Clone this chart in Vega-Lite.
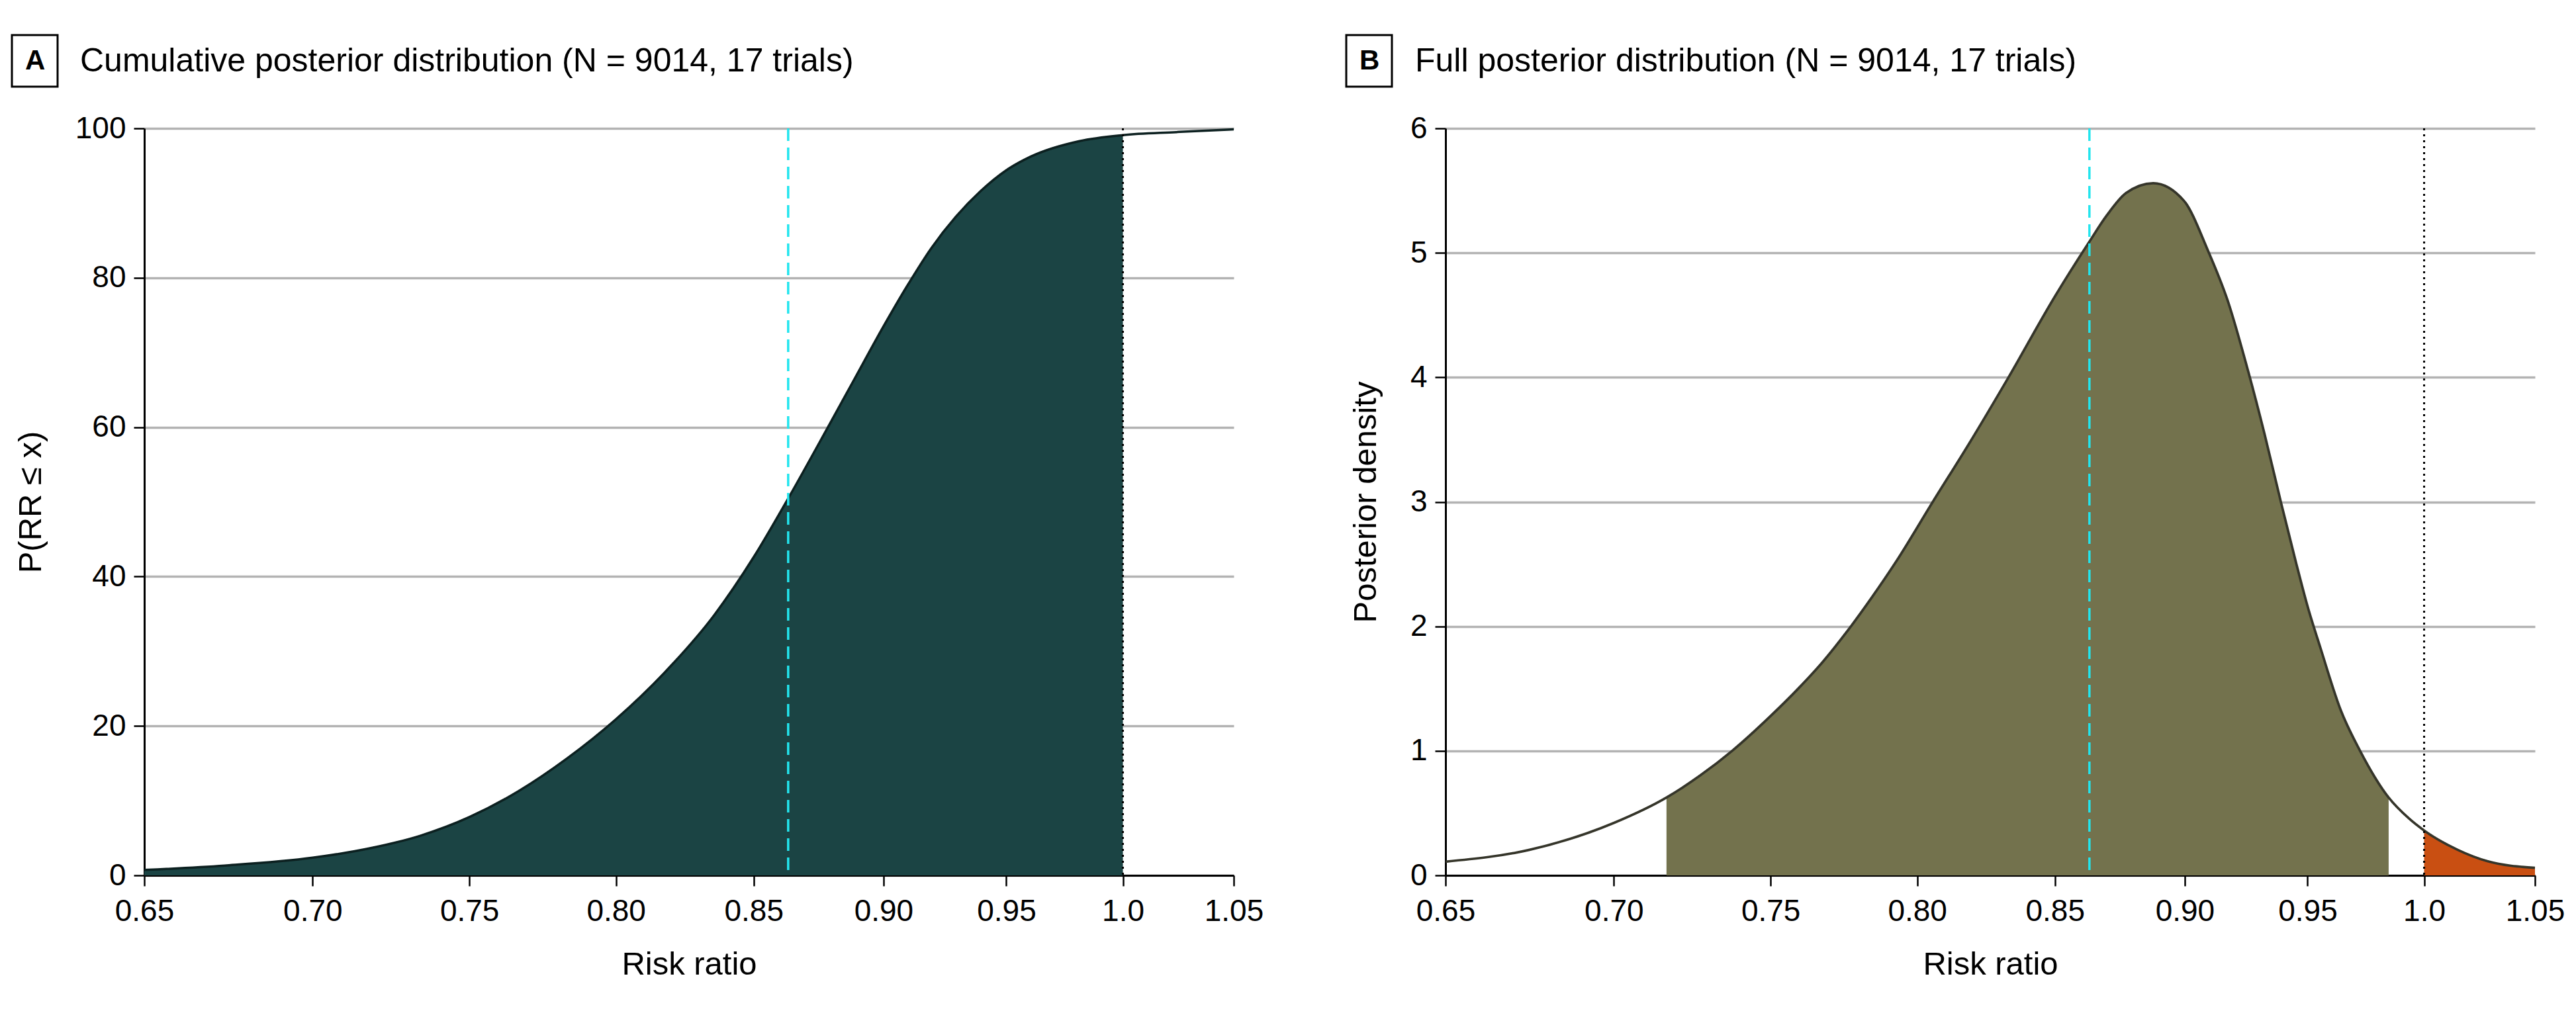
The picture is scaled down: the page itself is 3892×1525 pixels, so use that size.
{
  "$schema": "https://vega.github.io/schema/vega-lite/v6.json",
  "padding": {"left": 16, "top": 51, "right": 0, "bottom": 0},
  "background": "white",
  "datasets": {
    "cdf": [
      {"rr": 0.65, "p": 0.72}, {"rr": 0.6734, "p": 1.31}, {"rr": 0.70, "p": 2.36}, {"rr": 0.7184, "p": 3.67},
      {"rr": 0.734, "p": 5.31}, {"rr": 0.75, "p": 7.8}, {"rr": 0.7664, "p": 11.27}, {"rr": 0.783, "p": 15.66},
      {"rr": 0.80, "p": 20.9}, {"rr": 0.8176, "p": 27.26}, {"rr": 0.8354, "p": 34.86}, {"rr": 0.85, "p": 42.6},
      {"rr": 0.8634, "p": 50.7}, {"rr": 0.8785, "p": 60.16}, {"rr": 0.888, "p": 66.1}, {"rr": 0.90, "p": 73.5},
      {"rr": 0.9094, "p": 78.9}, {"rr": 0.9192, "p": 84.0}, {"rr": 0.9292, "p": 88.2}, {"rr": 0.9393, "p": 91.6},
      {"rr": 0.95, "p": 94.4}, {"rr": 0.9601, "p": 96.2}, {"rr": 0.9811, "p": 98.3}, {"rr": 1.0, "p": 99.1},
      {"rr": 1.0238, "p": 99.5}, {"rr": 1.05, "p": 99.87}
    ],
    "dens": [
      {"rr": 0.65, "d": 0.11}, {"rr": 0.6743, "d": 0.204}, {"rr": 0.70, "d": 0.421}, {"rr": 0.7164, "d": 0.625},
      {"rr": 0.7271, "d": 0.802}, {"rr": 0.7374, "d": 1.0}, {"rr": 0.75, "d": 1.28}, {"rr": 0.7591, "d": 1.498},
      {"rr": 0.7674, "d": 1.714}, {"rr": 0.7757, "d": 1.96}, {"rr": 0.7841, "d": 2.23}, {"rr": 0.7926, "d": 2.52},
      {"rr": 0.8055, "d": 3.0}, {"rr": 0.8187, "d": 3.476}, {"rr": 0.8328, "d": 4.0}, {"rr": 0.85, "d": 4.65},
      {"rr": 0.8627, "d": 5.08}, {"rr": 0.8696, "d": 5.30}, {"rr": 0.877, "d": 5.48}, {"rr": 0.8876, "d": 5.56},
      {"rr": 0.8996, "d": 5.42}, {"rr": 0.9092, "d": 5.02}, {"rr": 0.9171, "d": 4.62}, {"rr": 0.9256, "d": 4.04},
      {"rr": 0.9321, "d": 3.55}, {"rr": 0.939, "d": 2.99}, {"rr": 0.9452, "d": 2.51}, {"rr": 0.95, "d": 2.16},
      {"rr": 0.9555, "d": 1.82}, {"rr": 0.9639, "d": 1.33}, {"rr": 0.9722, "d": 1.0}, {"rr": 0.9845, "d": 0.625},
      {"rr": 0.9934, "d": 0.456}, {"rr": 1.0, "d": 0.36}, {"rr": 1.015, "d": 0.204}, {"rr": 1.0282, "d": 0.114},
      {"rr": 1.05, "d": 0.06}
    ],
    "cri": [
      {"rr": 0.7164, "d": 0.625}, {"rr": 0.7271, "d": 0.802}, {"rr": 0.7374, "d": 1.0}, {"rr": 0.75, "d": 1.28},
      {"rr": 0.7591, "d": 1.498}, {"rr": 0.7674, "d": 1.714}, {"rr": 0.7757, "d": 1.96}, {"rr": 0.7841, "d": 2.23},
      {"rr": 0.7926, "d": 2.52}, {"rr": 0.8055, "d": 3.0}, {"rr": 0.8187, "d": 3.476}, {"rr": 0.8328, "d": 4.0},
      {"rr": 0.85, "d": 4.65}, {"rr": 0.8627, "d": 5.08}, {"rr": 0.8696, "d": 5.30}, {"rr": 0.877, "d": 5.48},
      {"rr": 0.8876, "d": 5.56}, {"rr": 0.8996, "d": 5.42}, {"rr": 0.9092, "d": 5.02}, {"rr": 0.9171, "d": 4.62},
      {"rr": 0.9256, "d": 4.04}, {"rr": 0.9321, "d": 3.55}, {"rr": 0.939, "d": 2.99}, {"rr": 0.9452, "d": 2.51},
      {"rr": 0.95, "d": 2.16}, {"rr": 0.9555, "d": 1.82}, {"rr": 0.9639, "d": 1.33}, {"rr": 0.9722, "d": 1.0},
      {"rr": 0.9845, "d": 0.625}
    ],
    "harm": [
      {"rr": 1.0, "d": 0.36}, {"rr": 1.015, "d": 0.204}, {"rr": 1.0282, "d": 0.114}, {"rr": 1.05, "d": 0.06}
    ],
    "refA": [{"rr": 0.863, "panel": "A"}],
    "refB": [{"rr": 0.863, "panel": "B"}],
    "nullLine": [{"rr": 1.0}]
  },
  "spacing": 320,
  "bounds": "flush",
  "resolve": {"scale": {"opacity": "independent"}, "legend": {"opacity": "independent"}},
  "hconcat": [
    {
      "width": 1646,
      "height": 1129,
      "title": {"text": "Cumulative posterior distribution (N = 9014, 17 trials)", "dx": -97, "offset": -66},
      "layer": [
        {
          "data": {"name": "cdf"},
          "transform": [{"filter": "datum.rr <= 1.0"}],
          "mark": {"type": "area", "color": "#1b4444", "interpolate": "monotone"},
          "encoding": {
            "x": {"field": "rr", "type": "quantitative", "scale": {"type": "log", "domain": [0.65, 1.05], "nice": false, "zero": false},
                  "axis": {"values": [0.65, 0.7, 0.75, 0.8, 0.85, 0.9, 0.95, 1.0, 1.05], "labelExpr": "datum.value == 1 ? '1.0' : format(datum.value, '.2f')", "labelOverlap": false}, "title": "Risk ratio"},
            "y": {"field": "p", "type": "quantitative", "scale": {"domain": [0, 100], "nice": false},
                  "axis": {"values": [0, 20, 40, 60, 80, 100], "grid": true, "format": "d"}, "title": "P(RR ≤ x)"}
          }
        },
        {
          "data": {"name": "cdf"},
          "mark": {"type": "line", "color": "#0c2020", "strokeWidth": 3.5, "interpolate": "monotone"},
          "encoding": {
            "x": {"field": "rr", "type": "quantitative"},
            "y": {"field": "p", "type": "quantitative"}
          }
        },
        {
          "data": {"name": "nullLine"},
          "mark": {"type": "rule", "color": "black", "strokeWidth": 3, "strokeDash": [3, 6]},
          "encoding": {"x": {"field": "rr", "type": "quantitative"}}
        },
        {
          "data": {"name": "refA"},
          "mark": {"type": "rule", "color": "#22e5ee", "strokeWidth": 3.5, "strokeDash": [19, 10]},
          "encoding": {
            "x": {"field": "rr", "type": "quantitative"},
            "opacity": {"field": "panel", "type": "ordinal", "scale": {"range": [1]},
                        "legend": {"title": null, "orient": "none", "legendX": -200, "legendY": -141, "symbolSize": 0, "labelOffset": -40}}
          }
        }
      ]
    },
    {
      "width": 1646,
      "height": 1129,
      "title": {"text": "Full posterior distribution (N = 9014, 17 trials)", "dx": -46, "offset": -66},
      "layer": [
        {
          "data": {"name": "cri"},
          "mark": {"type": "area", "color": "#73724d", "interpolate": "monotone"},
          "encoding": {
            "x": {"field": "rr", "type": "quantitative", "scale": {"type": "log", "domain": [0.65, 1.05], "nice": false, "zero": false},
                  "axis": {"values": [0.65, 0.7, 0.75, 0.8, 0.85, 0.9, 0.95, 1.0, 1.05], "labelExpr": "datum.value == 1 ? '1.0' : format(datum.value, '.2f')", "labelOverlap": false}, "title": "Risk ratio"},
            "y": {"field": "d", "type": "quantitative", "scale": {"domain": [0, 6], "nice": false},
                  "axis": {"values": [0, 1, 2, 3, 4, 5, 6], "grid": true, "format": "d"}, "title": "Posterior density"}
          }
        },
        {
          "data": {"name": "harm"},
          "mark": {"type": "area", "color": "#c94f12", "interpolate": "monotone"},
          "encoding": {
            "x": {"field": "rr", "type": "quantitative"},
            "y": {"field": "d", "type": "quantitative"}
          }
        },
        {
          "data": {"name": "dens"},
          "mark": {"type": "line", "color": "#35352a", "strokeWidth": 3.7, "interpolate": "monotone"},
          "encoding": {
            "x": {"field": "rr", "type": "quantitative"},
            "y": {"field": "d", "type": "quantitative"}
          }
        },
        {
          "data": {"name": "nullLine"},
          "mark": {"type": "rule", "color": "black", "strokeWidth": 3, "strokeDash": [3, 6]},
          "encoding": {"x": {"field": "rr", "type": "quantitative"}}
        },
        {
          "data": {"name": "refB"},
          "mark": {"type": "rule", "color": "#22e5ee", "strokeWidth": 3.5, "strokeDash": [19, 10]},
          "encoding": {
            "x": {"field": "rr", "type": "quantitative"},
            "opacity": {"field": "panel", "type": "ordinal", "scale": {"range": [1]},
                        "legend": {"title": null, "orient": "none", "legendX": -150, "legendY": -141, "symbolSize": 0, "labelOffset": -40}}
          }
        }
      ]
    }
  ],
  "config": {
    "view": {"stroke": null},
    "font": "Liberation Sans",
    "axis": {
      "labelFont": "Liberation Sans", "labelFontSize": 46, "labelColor": "black",
      "titleFont": "Liberation Sans", "titleFontSize": 49, "titleFontWeight": "normal", "titleColor": "black",
      "domainColor": "black", "domainWidth": 3, "tickColor": "black", "tickWidth": 2.5, "tickSize": 16,
      "gridColor": "#b3b3b3", "gridWidth": 3.5, "gridOpacity": 1
    },
    "axisY": {"labelPadding": 12, "titlePadding": 42},
    "axisX": {"labelPadding": 16, "titlePadding": 33, "grid": false, "labelFlush": false},
    "title": {"font": "Liberation Sans", "fontSize": 50, "fontWeight": "normal", "color": "black", "anchor": "start", "frame": "group"},
    "legend": {
      "strokeColor": "black", "strokeWidth": 3, "padding": 18,
      "symbolSize": 0, "symbolOpacity": 0, "symbolStrokeWidth": 0, "symbolStrokeColor": "transparent",
      "labelFont": "Liberation Sans", "labelFontSize": 42, "labelFontWeight": "bold", "labelColor": "black", "labelOffset": 0
    }
  }
}
